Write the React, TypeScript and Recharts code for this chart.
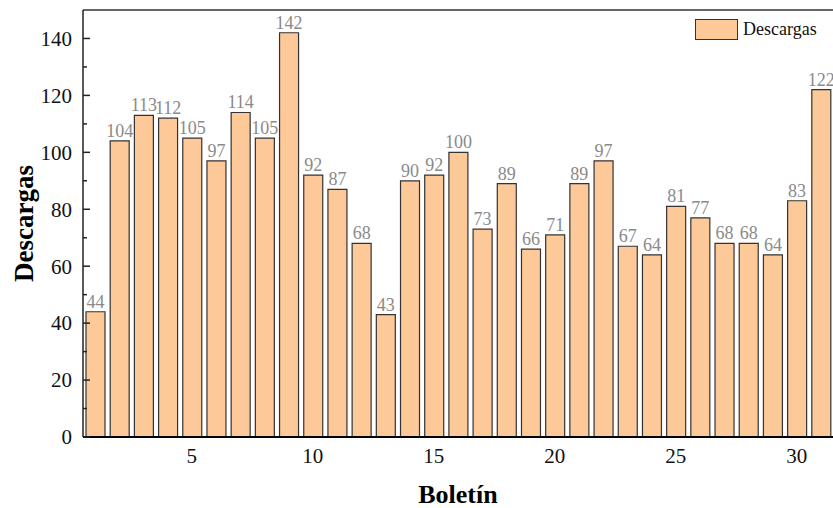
import React from 'react';
import { BarChart, Bar, XAxis, YAxis, LabelList, ReferenceLine } from 'recharts';

const boletines = [1, 2, 3, 4, 5, 6, 7, 8, 9, 10, 11, 12, 13, 14, 15, 16, 17, 18, 19, 20, 21, 22, 23, 24, 25, 26, 27, 28, 29, 30, 31];
const descargas = [44, 104, 113, 112, 105, 97, 114, 105, 142, 92, 87, 68, 43, 90, 92, 100, 73, 89, 66, 71, 89, 97, 67, 64, 81, 77, 68, 68, 64, 83, 122];
const xTicks = [5, 10, 15, 20, 25, 30];
const yTicks = [0, 10, 20, 30, 40, 50, 60, 70, 80, 90, 100, 110, 120, 130, 140];
const seriesName = 'Descargas';

const data = boletines.map((b, i) => ({ b, v: descargas[i] }));

const FONT = '"Liberation Serif", "Times New Roman", Times, serif';
const FILL = '#FDC998';
const serif = { fontFamily: FONT };

const YTick = (props: any) => {
  const { x, y, payload } = props;
  const v = payload.value;
  const major = v % 20 === 0;
  const ax = x + 11;
  return (
    <g>
      <line x1={ax} x2={ax + (major ? 7 : 4)} y1={y} y2={y} stroke="#222" strokeWidth={1.5} />
      {major && (
        <text x={x} y={y} dy="0.35em" textAnchor="end" fontSize={21} style={serif} fill="#111">
          {v}
        </text>
      )}
    </g>
  );
};

const XTick = (props: any) => {
  const { x, y, payload } = props;
  return (
    <text x={x} y={y} dy="0.71em" textAnchor="middle" fontSize={21} style={serif} fill="#111">
      {payload.value}
    </text>
  );
};

const ValueLabel = (props: any) => {
  const { x, y, width, value } = props;
  return (
    <text x={x + width / 2} y={y - 4} textAnchor="middle" fontSize={18} style={serif} fill="#8a8a8a">
      {value}
    </text>
  );
};

const YTitle = (props: any) => {
  const vb = props.viewBox;
  const cx = vb.x + 24;
  const cy = vb.y + vb.height / 2;
  return (
    <text x={cx} y={cy} transform={`rotate(-90 ${cx} ${cy})`} textAnchor="middle" dy="0.35em" fontSize={27} fontWeight="bold" style={serif} fill="#000">
      Descargas
    </text>
  );
};

const XTitle = (props: any) => {
  const vb = props.viewBox;
  return (
    <text x={vb.x + vb.width / 2} y={vb.y + 66} textAnchor="middle" fontSize={26} fontWeight="bold" style={serif} fill="#000">
      Boletín
    </text>
  );
};

export default function App() {
  return (
    <div style={{ position: 'fixed', left: 0, top: 0, width: 833, height: 508, background: '#fff', fontFamily: FONT }}>
      <BarChart width={833} height={508} data={data} margin={{ top: 10, right: 0, left: 0, bottom: 0 }} style={serif}>
        <XAxis
          dataKey="b"
          type="number"
          domain={[0.5, 31.5]}
          ticks={xTicks}
          tickLine={false}
          tickSize={0}
          tickMargin={11}
          tick={<XTick />}
          height={71}
          axisLine={{ stroke: '#000', strokeWidth: 2 }}
          label={<XTitle />}
          allowDataOverflow
        />
        <YAxis
          type="number"
          domain={[0, 150]}
          ticks={yTicks}
          interval={0}
          width={83}
          tickLine={false}
          tickSize={0}
          tickMargin={11}
          tick={<YTick />}
          axisLine={{ stroke: '#222', strokeWidth: 1.5 }}
          label={<YTitle />}
          allowDataOverflow
        />
        <ReferenceLine y={150} stroke="#333" strokeWidth={1.5} />
        <Bar dataKey="v" name={seriesName} barSize={19} fill={FILL} stroke="#333" strokeWidth={1.2} isAnimationActive={false}>
          <LabelList dataKey="v" content={<ValueLabel />} />
        </Bar>
      </BarChart>
      <div
        style={{
          position: 'absolute',
          left: 695,
          top: 19,
          display: 'flex',
          alignItems: 'center',
          fontFamily: FONT,
          fontSize: 18,
          color: '#111',
          lineHeight: '21px',
        }}
      >
        <div style={{ width: 41, height: 19, background: FILL, border: '1px solid #333' }} />
        <span style={{ marginLeft: 5 }}>{seriesName}</span>
      </div>
    </div>
  );
}
